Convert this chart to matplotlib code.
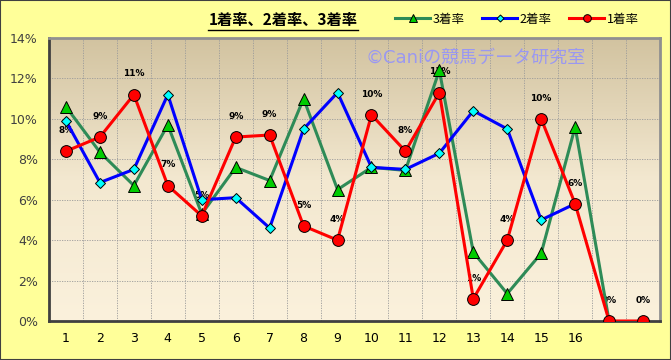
import matplotlib.pyplot as plt
import numpy as np
from matplotlib.colors import LinearSegmentedColormap

plt.rcParams['font.family'] = ['DejaVu Sans', 'Noto Sans CJK JP']

# データ
labels = [str(i) for i in range(1, 17)] + ['', '']
win = [8.4, 9.1, 11.2, 6.7, 5.2, 9.1, 9.2, 4.7, 4.0, 10.2, 8.4, 11.3, 1.1, 4.0, 10.0, 5.8, 0.0, 0.0]
second = [9.9, 6.85, 7.5, 11.2, 6.0, 6.1, 4.6, 9.5, 11.3, 7.6, 7.5, 8.3, 10.4, 9.5, 5.0, 5.8]
third = [10.6, 8.35, 6.7, 9.7, 5.3, 7.6, 6.95, 11.0, 6.5, 7.6, 7.45, 12.4, 3.4, 1.35, 3.35, 9.6, 0.0]

fig = plt.figure(figsize=(6.71, 3.60), dpi=100, facecolor='#FFFF99')
fig.patches.append(plt.Rectangle((0, 0), 1, 1, transform=fig.transFigure,
                                 fill=False, edgecolor='#404040', lw=1.5))
ax = fig.add_axes([49/671, 39/360, 611/671, 283/360])

# 背景グラデーション
cmap = LinearSegmentedColormap.from_list('bg', ['#FBF1DC', '#F3E8D0', '#D2C3A0'])
grad = np.linspace(0, 1, 256).reshape(-1, 1)
ax.imshow(grad, cmap=cmap, origin='lower', extent=[0, 1, 0, 1],
          transform=ax.transAxes, aspect='auto', zorder=0)

x1 = np.arange(1, len(win) + 1)
x2 = np.arange(1, len(second) + 1)
x3 = np.arange(1, len(third) + 1)

ax.plot(x3, third, color='#2E8B57', lw=2.2, marker='^', ms=8,
        mfc='#00CC00', mec='black', mew=0.7, label='3着率', zorder=3)
ax.plot(x2, second, color='#0000FF', lw=2.2, marker='D', ms=5.5,
        mfc='#00FFFF', mec='black', mew=0.7, label='2着率', zorder=4)
ax.plot(x1, win, color='#FF0000', lw=2.2, marker='o', ms=8.5,
        mfc='#FF0000', mec='black', mew=0.7, label='1着率', zorder=5)

# 1着率のラベル
for xi, v in zip(x1, win):
    ax.text(xi, v + 0.8, f'{round(v):.0f}%', ha='center', va='bottom',
            fontsize=6.5, fontweight='bold', zorder=2)

ax.set_xlim(0.5, len(labels) + 0.5)
ax.set_ylim(0, 14)
ax.set_xticks(x1)
ax.set_xticklabels(labels, fontsize=9)
ax.set_xticks(np.arange(0.5, len(labels) + 1), minor=True)
ax.set_yticks(range(0, 15, 2))
ax.set_yticklabels([f'{v}%' for v in range(0, 15, 2)], fontsize=9, color='#404040')
ax.tick_params(axis='both', which='both', length=0, pad=8)
ax.grid(True, which='major', axis='y', color='#9A9A9A', ls=(0, (1.5, 1.5)), lw=0.6)
ax.grid(True, which='minor', axis='x', color='#9A9A9A', ls=(0, (1.5, 1.5)), lw=0.6)
ax.set_axisbelow(True)
for s in ['left', 'bottom']:
    ax.spines[s].set_color('#404040')
    ax.spines[s].set_linewidth(2)
for s in ['top', 'right']:
    ax.spines[s].set_color('#909090')
    ax.spines[s].set_linewidth(2)

# 透かし
ax.text(316/611, 0.93, '©Caniの競馬データ研究室', transform=ax.transAxes,
        fontsize=13, color='#9090FF', alpha=0.85, ha='left', va='center',
        family=['DejaVu Sans', 'Noto Sans CJK JP'], zorder=1)

fig.text(283/671, 1 - 20/360, '1着率、2着率、3着率', ha='center', va='center',
         fontsize=11, fontweight='bold', family=['Noto Sans CJK JP'])
fig.add_artist(plt.Line2D([208/671, 358/671], [1 - 30/360, 1 - 30/360],
                          color='black', lw=1))

fig.legend(loc='center right', bbox_to_anchor=(650/671, 1 - 19/360), ncol=3,
           frameon=False, handlelength=2.8, columnspacing=1.4, markerscale=0.65,
           handletextpad=0.2, prop={'family': ['Noto Sans CJK JP'], 'size': 9})

fig.savefig('out.png', dpi=100, facecolor=fig.get_facecolor())
